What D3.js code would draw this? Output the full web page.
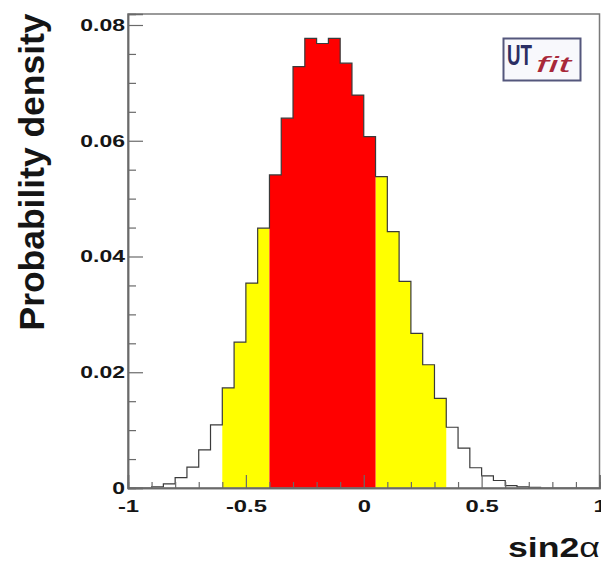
<!DOCTYPE html>
<html>
<head>
<meta charset="utf-8">
<script src="https://cdn.jsdelivr.net/npm/d3@7"></script>
<style>
  body { margin: 0; background: #fff; }
  svg { display: block; font-family: "Liberation Sans", Arial, Helvetica, sans-serif; }
</style>
</head>
<body>
<div id="chart"></div>
<script>
// histogram of sin2alpha, 40 bins from -1 to 1
const binEdges = [
  -1.00, -0.95, -0.90, -0.85, -0.80, -0.75, -0.70, -0.65, -0.60, -0.55,
  -0.50, -0.45, -0.40, -0.35, -0.30, -0.25, -0.20, -0.15, -0.10, -0.05,
   0.00,  0.05,  0.10,  0.15,  0.20,  0.25,  0.30,  0.35,  0.40,  0.45,
   0.50,  0.55,  0.60,  0.65,  0.70,  0.75,  0.80,  0.85,  0.90,  0.95,
   1.00
];
const density = [
  0.0000, 0.0000, 0.0002, 0.0007, 0.0018, 0.0036, 0.0066, 0.0109, 0.0173, 0.0252,
  0.0354, 0.0449, 0.0541, 0.0639, 0.0728, 0.0777, 0.0768, 0.0777, 0.0734, 0.0679,
  0.0607, 0.0538, 0.0443, 0.0357, 0.0267, 0.0213, 0.0155, 0.0105, 0.0069, 0.0035,
  0.0021, 0.0013, 0.0004, 0.0002, 0.0001, 0.0000, 0.0000, 0.0000, 0.0000, 0.0000
];
// 68% and 95% probability regions
const band68 = [-0.40, 0.05];
const band95 = [-0.60, 0.35];

const xMajorTicks = [-1, -0.5, 0, 0.5, 1];
const xMinorTicks = [-0.9, -0.8, -0.7, -0.6, -0.4, -0.3, -0.2, -0.1,
                     0.1, 0.2, 0.3, 0.4, 0.6, 0.7, 0.8, 0.9];
const yMajorTicks = [0, 0.02, 0.04, 0.06, 0.08];
const yMinorTicks = [0.005, 0.01, 0.015, 0.025, 0.03, 0.035, 0.045, 0.05,
                     0.055, 0.065, 0.07, 0.075];

const width = 601, height = 563;
const plot = {left: 128, right: 599.5, top: 14, bottom: 488};

const svg = d3.select('#chart')
  .append('svg')
  .attr('width', width)
  .attr('height', height);

const x = d3.scaleLinear()
  .domain([-1, 1])
  .range([plot.left, plot.right]);
const y = d3.scaleLinear()
  .domain([0, 0.0819])
  .range([plot.bottom, plot.top]);

// stretch text horizontally like the original raster
function stretch(sel, factor) {
  sel.each(function() {
    let w = this.getComputedTextLength();
    d3.select(this)
      .attr('textLength', w * factor)
      .attr('lengthAdjust', 'spacingAndGlyphs');
  });
}

const bins = density.map((d, i) => ({lo: binEdges[i], hi: binEdges[i + 1], v: d}));

// step points [edge, value] for bins inside [a, b]
function stepPoints(a, b) {
  let sel = bins.filter(bn => bn.lo >= a - 1e-9 && bn.hi <= b + 1e-9);
  let p = sel.map(bn => [bn.lo, bn.v]);
  let last = sel[sel.length - 1];
  p.push([last.hi, last.v]);
  return p;
}

const stepArea = d3.area()
  .x(p => x(p[0]))
  .y0(y(0))
  .y1(p => y(p[1]))
  .curve(d3.curveStepAfter);

// yellow 95% region (both sides), red 68% region on top
svg.append('path')
  .attr('fill', '#ffff00')
  .attr('d', stepArea(stepPoints(band95[0], band68[0])));
svg.append('path')
  .attr('fill', '#ffff00')
  .attr('d', stepArea(stepPoints(band68[1], band95[1])));
svg.append('path')
  .attr('fill', '#ff0000')
  .attr('d', stepArea(stepPoints(band68[0], band68[1])));

// histogram outline
svg.append('path')
  .datum(stepPoints(binEdges[0], binEdges[binEdges.length - 1]))
  .attr('fill', 'none')
  .attr('stroke', '#3a3a3a')
  .attr('stroke-width', 1.2)
  .attr('d', d3.line()
    .x(p => x(p[0]))
    .y(p => y(p[1]))
    .curve(d3.curveStepAfter));

// frame
svg.append('rect')
  .attr('x', plot.left)
  .attr('y', plot.top)
  .attr('width', plot.right - plot.left)
  .attr('height', plot.bottom - plot.top)
  .attr('fill', 'none')
  .attr('stroke', '#7a7a7a')
  .attr('stroke-width', 1.5);

// x axis, ticks pointing inside
let xMinor = svg.append('g')
  .attr('transform', `translate(0, ${plot.bottom})`)
  .call(d3.axisBottom(x).tickValues(xMinorTicks).tickSize(-6).tickFormat(''));
let xMajor = svg.append('g')
  .attr('transform', `translate(0, ${plot.bottom})`)
  .call(d3.axisBottom(x).tickValues(xMajorTicks).tickSize(-13).tickPadding(12).tickFormat(d => String(d)));

// y axis, ticks pointing inside
let yMinor = svg.append('g')
  .attr('transform', `translate(${plot.left}, 0)`)
  .call(d3.axisLeft(y).tickValues(yMinorTicks).tickSize(-8).tickFormat(''));
let yMajor = svg.append('g')
  .attr('transform', `translate(${plot.left}, 0)`)
  .call(d3.axisLeft(y).tickValues(yMajorTicks).tickSize(-15).tickPadding(3).tickFormat(d => String(d)));

[xMinor, xMajor, yMinor, yMajor].forEach(g => {
  g.select('.domain').attr('stroke', '#6a6a6a').attr('stroke-width', 1.5);
  g.selectAll('.tick line').attr('stroke', '#6a6a6a').attr('stroke-width', 1.2);
});

xMajor.selectAll('text')
  .attr('fill', '#151515')
  .attr('font-size', 17)
  .attr('font-weight', 'bold')
  .attr('dy', 0)
  .attr('y', 24)
  .call(stretch, 1.4);
yMajor.selectAll('text')
  .attr('fill', '#151515')
  .attr('font-size', 17)
  .attr('font-weight', 'bold')
  .attr('x', -3)
  .call(stretch, 1.35);

// axis titles
svg.append('text')
  .attr('transform', 'translate(44, 172) rotate(-90)')
  .attr('text-anchor', 'middle')
  .attr('font-size', 35)
  .attr('font-weight', 'bold')
  .attr('fill', '#151515')
  .attr('textLength', 317)
  .attr('lengthAdjust', 'spacingAndGlyphs')
  .text('Probability density');

let xt = svg.append('text')
  .attr('x', 600)
  .attr('y', 557)
  .attr('text-anchor', 'end')
  .attr('font-size', 28)
  .attr('font-weight', 'bold')
  .attr('fill', '#151515');
xt.append('tspan').text('sin2');
xt.append('tspan').attr('font-weight', 'normal').text('α');
xt.attr('textLength', 92).attr('lengthAdjust', 'spacingAndGlyphs');

// UTfit logo, one text with two styled parts
let logo = svg.append('g');
logo.append('rect')
  .attr('x', 503.5)
  .attr('y', 38.5)
  .attr('width', 77)
  .attr('height', 42)
  .attr('fill', '#f8f8fc')
  .attr('stroke', '#54577c')
  .attr('stroke-width', 2);
let lt = logo.append('text')
  .attr('x', 507)
  .attr('y', 65);
lt.append('tspan')
  .attr('font-size', 30)
  .attr('font-weight', 'bold')
  .attr('fill', '#2b2e64')
  .attr('textLength', 25)
  .attr('lengthAdjust', 'spacingAndGlyphs')
  .text('UT');
lt.append('tspan')
  .attr('dx', 4)
  .attr('dy', 7)
  .attr('font-size', 22)
  .attr('font-style', 'italic')
  .attr('fill', '#a8283a')
  .attr('textLength', 35)
  .attr('lengthAdjust', 'spacingAndGlyphs')
  .text('fit');
</script>
</body>
</html>
